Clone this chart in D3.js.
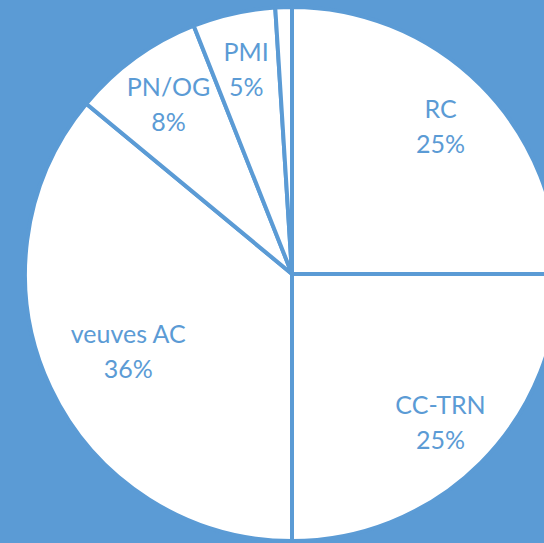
<!DOCTYPE html>
<html>
<head>
<meta charset="utf-8">
<script src="https://cdn.jsdelivr.net/npm/d3@7/dist/d3.min.js"></script>
<style>
	html, body { margin: 0; padding: 0; background: #5b9bd5; }
	svg { display: block; }
	.lbl { font-family: Lato, "Open Sans", sans-serif; font-size: 25px; fill: #5b9bd5; }
</style>
</head>
<body>
<script>
// Slices, clockwise from 12 o'clock
var names  = ["RC", "CC-TRN", "veuves AC", "PN/OG", "PMI", ""];
var values = [25, 25, 36, 8, 5, 1];
var pcts   = ["25%", "25%", "36%", "8%", "5%", ""];

var W = 544, H = 543;
var cx = 292, cy = 274, R = 267;
var blue = "#5b9bd5";

	// label distance from center (the big slice sits closer in)
var labelR = { "veuves AC": 181 };

var svg = d3.select("body").append("svg")
	.attr("width", W).attr("height", H);

svg.append("rect").attr("width", W).attr("height", H).attr("fill", blue);

var g = svg.append("g").attr("transform", "translate(" + cx + "," + cy + ")");

var data = names.map(function(n, i) { return { name: n, value: values[i], pct: pcts[i] }; });

var pie = d3.pie().sort(null).value(function(d) { return d.value; });
var arcs = pie(data);

var arc = d3.arc().innerRadius(0).outerRadius(R);

g.selectAll("path.slice")
	.data(arcs)
	.enter()
	.append("path")
	.attr("class", "slice")
	.attr("d", arc)
	.attr("fill", "#fff")
	.attr("stroke", blue)
	.attr("stroke-width", 4)
	.attr("stroke-linejoin", "round");

var lbl = g.selectAll("g.lblg")
	.data(arcs.filter(function(d) { return d.data.name !== ""; }))
	.enter()
	.append("g")
	.attr("class", "lblg")
	.attr("transform", function(d) {
		var r = labelR[d.data.name] || 210;
		var c = d3.arc().innerRadius(r).outerRadius(r).centroid(d);
		return "translate(" + c[0] + "," + c[1] + ")";
	});

lbl.append("text")
	.attr("class", "lbl")
	.attr("text-anchor", "middle")
	.attr("y", -8)
	.text(function(d) { return d.data.name; });

lbl.append("text")
	.attr("class", "lbl")
	.attr("text-anchor", "middle")
	.attr("y", 27)
	.text(function(d) { return d.data.pct; });
</script>
</body>
</html>
